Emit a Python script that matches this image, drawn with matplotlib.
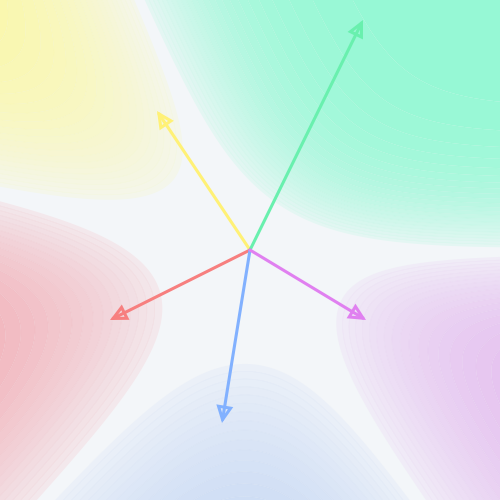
import numpy as np
import matplotlib
matplotlib.use('Agg')
import matplotlib.pyplot as plt
from matplotlib.colors import to_rgb

# classes, arrow tips (pixel space, y down) and colours
classes = ['yellow', 'green', 'red', 'blue', 'purple']
tip_x = [157, 363, 110, 222, 366]
tip_y = [111, 20, 320, 423, 320]
class_bias = [0.0, 0.0, 0.0, -0.26, -0.12]
arrow_colors = ['#fff176', '#69f0ae', '#f77f7f', '#82b1ff', '#e080f0']
fill_colors = ['#fbf7a1', '#94f8d4', '#f19ea7', '#bdd1f3', '#e2b5ed']
origin = (250, 250)
background = '#f3f6f9'

# softmax temperature and probability levels
beta = 9.0e-5
p_min = 0.52
levels = np.linspace(p_min, 1.0, 25)


def blend(col, bg, a):
    c = np.array(to_rgb(col))
    b = np.array(to_rgb(bg))
    return tuple(b + (c - b) * a)


fig = plt.figure(figsize=(5, 5), dpi=100)
ax = fig.add_axes([0, 0, 1, 1])
ax.set_facecolor(background)
fig.patch.set_facecolor(background)

xs = np.linspace(0, 500, 501)
ys = np.linspace(0, 500, 501)
X, Y = np.meshgrid(xs, ys)

# class scores from arrow vectors
scores = []
for tx, ty, b in zip(tip_x, tip_y, class_bias):
    wx, wy = tx - origin[0], ty - origin[1]
    scores.append(beta * (wx * (X - origin[0]) + wy * (Y - origin[1])) + b)
scores = np.array(scores)
scores -= scores.max(axis=0)
probs = np.exp(scores)
probs /= probs.sum(axis=0)

mids = (levels[:-1] + levels[1:]) / 2
for k in range(len(classes)):
    band_cols = [blend(fill_colors[k], background, 0.1 + 0.9 * (m - 0.5) / 0.5)
                 for m in mids]
    ax.contourf(X, Y, probs[k], levels=levels, colors=band_cols, antialiased=True)
    ax.contour(X, Y, probs[k], levels=levels[1:-1], colors=[fill_colors[k]],
               linewidths=0.4, alpha=0.18)

for k in range(len(classes)):
    ax.annotate('', xy=(tip_x[k], tip_y[k]), xytext=origin,
                arrowprops=dict(arrowstyle='-|>,head_length=0.45,head_width=0.22',
                                ec=arrow_colors[k], fc='none',
                                lw=2.2, mutation_scale=20, shrinkA=0, shrinkB=0,
                                joinstyle='miter'))

ax.set_xlim(0, 500)
ax.set_ylim(500, 0)
ax.axis('off')
fig.savefig('out.png', dpi=100, facecolor=background)
